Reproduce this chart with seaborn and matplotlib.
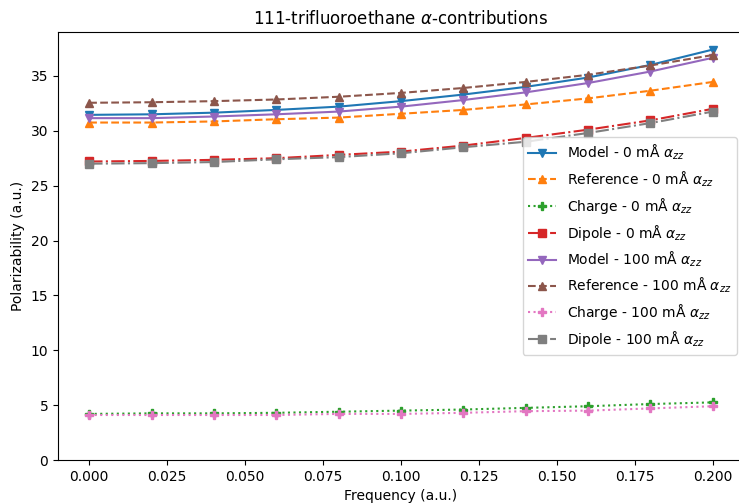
import matplotlib
matplotlib.use("Agg")
import matplotlib.pyplot as plt
import seaborn as sns
import pandas as pd

freq = [0.0, 0.02, 0.04, 0.06, 0.08, 0.10, 0.12, 0.14, 0.16, 0.18, 0.20]

model_0 = [31.45, 31.5, 31.65, 31.9, 32.2, 32.7, 33.3, 34.0, 34.85, 36.0, 37.4]
reference_0 = [30.75, 30.75, 30.85, 31.05, 31.2, 31.55, 31.9, 32.4, 32.95, 33.65, 34.45]
charge_0 = [4.2, 4.25, 4.25, 4.3, 4.4, 4.5, 4.6, 4.75, 4.9, 5.1, 5.25]
dipole_0 = [27.2, 27.25, 27.35, 27.5, 27.8, 28.1, 28.65, 29.35, 30.1, 30.95, 32.0]
model_100 = [31.15, 31.15, 31.3, 31.5, 31.75, 32.2, 32.8, 33.5, 34.35, 35.4, 36.65]
reference_100 = [32.55, 32.6, 32.7, 32.85, 33.1, 33.45, 33.9, 34.45, 35.1, 35.95, 36.9]
charge_100 = [4.1, 4.1, 4.1, 4.1, 4.2, 4.2, 4.3, 4.45, 4.5, 4.7, 4.9]
dipole_100 = [27.0, 27.05, 27.15, 27.4, 27.6, 27.95, 28.5, 29.0, 29.8, 30.7, 31.75]

series = [
    ("Model - 0 mÅ $\\alpha_{zz}$", model_0, "v", "-"),
    ("Reference - 0 mÅ $\\alpha_{zz}$", reference_0, "^", "--"),
    ("Charge - 0 mÅ $\\alpha_{zz}$", charge_0, "P", ":"),
    ("Dipole - 0 mÅ $\\alpha_{zz}$", dipole_0, "s", "-."),
    ("Model - 100 mÅ $\\alpha_{zz}$", model_100, "v", "-"),
    ("Reference - 100 mÅ $\\alpha_{zz}$", reference_100, "^", "--"),
    ("Charge - 100 mÅ $\\alpha_{zz}$", charge_100, "P", ":"),
    ("Dipole - 100 mÅ $\\alpha_{zz}$", dipole_100, "s", "-."),
]

plt.style.use("default")
plt.rcParams["font.family"] = ["DejaVu Sans"]

colors = sns.color_palette("tab10")
fig = plt.figure(figsize=(7.39, 5.03), dpi=100)
ax = fig.add_axes([58 / 739, 43 / 503, 686 / 739, 428 / 503])

for i, (label, vals, marker, ls) in enumerate(series):
    df = pd.DataFrame({"Frequency": freq, "Polarizability": vals})
    sns.lineplot(data=df, x="Frequency", y="Polarizability", ax=ax,
                 color=colors[i], marker=marker, linestyle=ls, label=label,
                 markersize=6, markeredgewidth=1, markeredgecolor=colors[i],
                 linewidth=1.5)

ax.set_ylim(0, 39.0)
ax.set_xlim(-0.01, 0.21)
ax.set_xlabel("Frequency (a.u.)")
ax.set_ylabel("Polarizability (a.u.)")
ax.set_title("111-trifluoroethane $\\alpha$-contributions")
ax.legend(loc="center right")
fig.savefig("out.png", dpi=100)
